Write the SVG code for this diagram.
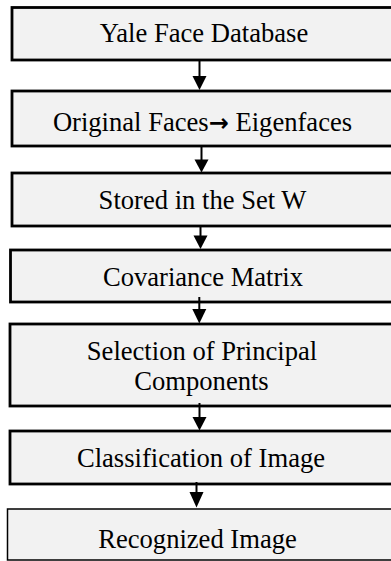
<svg xmlns="http://www.w3.org/2000/svg" width="391" height="561" viewBox="0 0 391 561">
<defs>
<style>
.box{fill:#f2f2f2;stroke:#000;stroke-width:2.8}
.thin{stroke-width:1.5}
.lbl{font-family:"Liberation Serif","Times New Roman","DejaVu Serif",serif;font-size:26.6px;fill:#000;text-anchor:middle}
.arr{font-family:"DejaVu Sans",sans-serif;font-weight:bold;font-size:24px}
.conn line{stroke:#000;stroke-width:2}
.conn polygon{fill:#000}
</style>
</defs>
<rect width="391" height="561" fill="#fff"/>
<g id="n1"><rect class="box" x="12" y="7.5" width="390" height="52.5"/><text class="lbl" x="204" y="42">Yale Face Database</text></g>
<g id="n2"><rect class="box" x="12" y="91" width="390" height="55"/><text class="lbl" x="202.5" y="131">Original Faces<tspan class="arr">→</tspan> Eigenfaces</text></g>
<g id="n3"><rect class="box" x="12" y="173" width="390" height="53"/><text class="lbl" x="202.5" y="209">Stored in the Set W</text></g>
<g id="n4"><rect class="box" x="10.5" y="250" width="390" height="52"/><text class="lbl" x="203" y="286">Covariance Matrix</text></g>
<g id="n5"><rect class="box" x="10" y="324" width="390" height="82"/><text class="lbl" x="202" y="360">Selection of Principal</text><text class="lbl" x="201.5" y="390">Components</text></g>
<g id="n6"><rect class="box" x="10" y="431" width="390" height="53"/><text class="lbl" x="201" y="467">Classification of Image</text></g>
<g id="n7"><rect class="box thin" x="7.5" y="509" width="390" height="51"/><text class="lbl" x="197.5" y="548">Recognized Image</text></g>
<g id="connectors" class="conn">
<line x1="199.5" y1="60" x2="199.5" y2="77"/><polygon points="192.5,76 206.5,76 199.5,90"/>
<line x1="201.5" y1="146" x2="201.5" y2="160"/><polygon points="194.5,159.5 208.5,159.5 201.5,172.5"/>
<line x1="200.5" y1="226" x2="200.5" y2="236"/><polygon points="193.5,235.5 207.5,235.5 200.5,249"/>
<line x1="199.3" y1="297" x2="199.3" y2="310"/><polygon points="192.3,309 206.3,309 199.3,323.5"/>
<line x1="199.5" y1="403" x2="199.5" y2="418"/><polygon points="192.5,417 206.5,417 199.5,430.5"/>
<line x1="196.5" y1="482" x2="196.5" y2="493"/><polygon points="189.5,492 203.5,492 196.5,507.5"/>
</g>
</svg>
